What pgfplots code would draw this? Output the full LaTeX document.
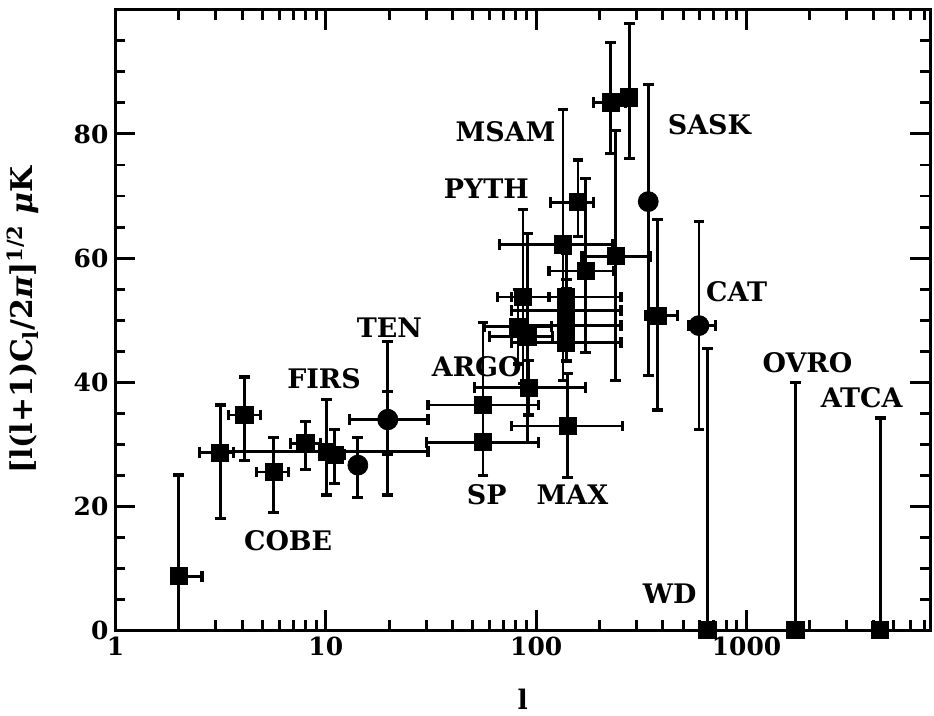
\documentclass[border=0pt]{standalone}
\usepackage{fontspec}
\setmainfont{DejaVu Serif}
\usepackage{pgfplots}
\pgfplotsset{compat=1.18}
\usepackage{pgfplotstable}

% l, value, x error plus/minus, y error plus/minus
\pgfplotstableread{
x     y     xp    xm    yp    ym
2.0   8.7   0.58  0     16.3  8.7
3.15  28.6  0.5   0.63  7.7   10.6
4.1   34.7  0.78  0.64  6.1   7.3
5.65  25.5  1.01  0.95  5.5   6.6
8.0   30.1  1.4   1.2   3.5   4.2
11.0  28.3  1.3   1.2   4.0   4.6
10.1  28.8  20.5  6.9   8.4   7.0
55.9  30.3  47    25.9  5.7   5.4
55.9  36.3  47    25.3  13.3  6.3
92.3  39.1  79.7  41.2  4.4   4.4
86.5  53.7  28.5  20.8  14.1  14.0
81.9  48.9  36    25.3  6     6
91    47.3  29    31    16.7  17.1
134   62.2  96    67    21.7  21.9
139   53.7  114   63    7     7
139   51.5  114   63    5     5
139   49.1  114   63    6     5.6
139   46.4  114   63    8     3
141   32.9  116   64.7  8.5   8.3
158   69    30    41    6.8   5.5
172   57.9  61    57    14.9  13.1
239   60.3  111   74    20.3  20.0
226   85.1  40    38    9.7   8.3
277   85.9  0     0     11.9  9.8
377   50.7  91    46    15.5  15.2
651   0     0     0     45.4  0
1707  0     0     0     39.9  0
4315  0     0     0     34.2  0
}\squarepts

\pgfplotstableread{
x     y     xp    xm    yp    ym
14.2  26.6  0     0     4.5   5.2
19.7  33.9  10.9  6.7   12.7  12.1
19.7  34.0  0     0     4.5   5.7
341   69.1  0     0     18.9  28.0
594   49.1  116   64    16.8  16.8
}\roundpts

\newcommand{\lbl}{\fontsize{13.5}{15}\selectfont\bfseries}

\pgfplotsset{
    cmbstyle/.style={
        only marks, black,
        error bars/x dir=both, error bars/x explicit,
        error bars/y dir=both, error bars/y explicit,
        error bars/error bar style={line width=1.4pt, black, solid},
        error bars/error mark options={rotate=90, line width=1.6pt, mark size=2.7pt, black, solid},
    },
}

\begin{document}
\begin{tikzpicture}
\begin{axis}[
    scale only axis,
    width=408.5pt, height=311pt,
    xmode=log,
    xmin=1, xmax=7450,
    ymin=0, ymax=100,
    xtick={1,10,100,1000},
    xticklabels={1,10,100,1000},
    minor xtick={2,3,4,5,6,7,8,9,20,30,40,50,60,70,80,90,200,300,400,500,600,700,800,900,2000,3000,4000,5000,6000,7000},
    ytick={0,20,40,60,80},
    minor ytick={0,5,...,100},
    tick align=inside,
    major tick length=10pt,
    minor tick length=5pt,
    axis line style={line width=1.5pt},
    every tick/.style={line width=1.5pt, black},
    tick label style={font=\fontsize{12.5}{14}\selectfont\bfseries},
    /pgf/number format/assume math mode=true,
    clip=false,
    xlabel={l},
    xlabel style={font=\lbl, at={(axis description cs:0.5,0)}, anchor=center, yshift=-34.5pt},
]
\addplot[cmbstyle, mark=square*, mark size=4.3pt]
    table[x=x, y=y, x error plus=xp, x error minus=xm, y error plus=yp, y error minus=ym] {\squarepts};
\addplot[cmbstyle, mark=*, mark size=5pt]
    table[x=x, y=y, x error plus=xp, x error minus=xm, y error plus=yp, y error minus=ym] {\roundpts};

\node[rotate=90, font=\fontsize{15}{17}\selectfont\bfseries] at ([xshift=-46.5pt]rel axis cs:0,0.5)
    {[l(l+1)C\textsubscript{l}/2{\itshape π}]\textsuperscript{1/2} {\itshape μ}K};

\node[anchor=east, inner sep=0, font=\lbl] at (axis cs:124,80.3) {MSAM};
\node[anchor=east, inner sep=0, font=\lbl] at (axis cs:92.7,71.2) {PYTH};
\node[anchor=west, inner sep=0, font=\lbl] at (axis cs:421,81.5) {SASK};
\node[anchor=west, inner sep=0, font=\lbl] at (axis cs:640,54.6) {CAT};
\node[anchor=west, inner sep=0, font=\lbl] at (axis cs:14.0,48.8) {TEN};
\node[anchor=west, inner sep=0, font=\lbl] at (axis cs:6.53,40.5) {FIRS};
\node[anchor=west, inner sep=0, font=\lbl] at (axis cs:31.8,42.4) {ARGO};
\node[anchor=west, inner sep=0, font=\lbl] at (axis cs:4.07,14.45) {COBE};
\node[anchor=west, inner sep=0, font=\lbl] at (axis cs:46.6,21.8) {SP};
\node[anchor=west, inner sep=0, font=\lbl] at (axis cs:100,21.9) {MAX};
\node[anchor=west, inner sep=0, font=\lbl] at (axis cs:320,5.9) {WD};
\node[anchor=west, inner sep=0, font=\lbl] at (axis cs:1187,43.1) {OVRO};
\node[anchor=west, inner sep=0, font=\lbl] at (axis cs:2243,37.4) {ATCA};

% page frame: same margins round the axis box as the reference
\path ([shift={(-56.5pt,-40.5pt)}]rel axis cs:0,0) rectangle ([shift={(2pt,5pt)}]rel axis cs:1,1);
\end{axis}
\end{tikzpicture}
\end{document}
